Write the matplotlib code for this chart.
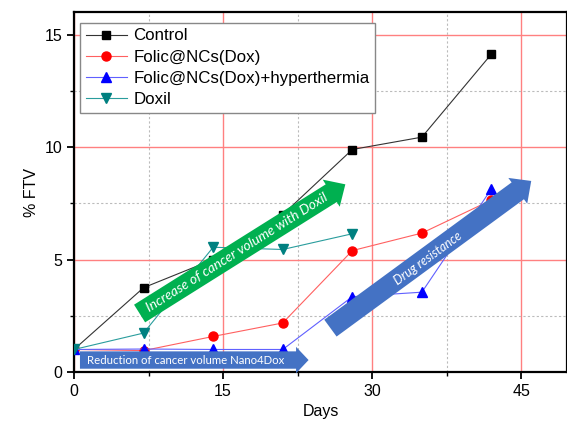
import numpy as np
import matplotlib
matplotlib.use("Agg")
import matplotlib.pyplot as plt
from matplotlib.ticker import MultipleLocator

plt.rcParams["font.family"] = ["Liberation Sans", "DejaVu Sans"]

# data
days_control = [0, 7, 14, 21, 28, 35, 42]
control = [1.0, 3.75, 5.0, 7.0, 9.9, 10.45, 14.15]

days_folic = [0, 7, 14, 21, 28, 35, 42]
folic = [1.0, 0.95, 1.58, 2.18, 5.4, 6.18, 7.65]

days_hyper = [0, 7, 14, 21, 28, 35, 42]
hyper = [1.0, 1.02, 1.0, 1.0, 3.35, 3.55, 8.15]

days_doxil = [0, 7, 14, 21, 28]
doxil = [1.0, 1.73, 5.55, 5.45, 6.15]

series_labels = ["Control", "Folic@NCs(Dox)", "Folic@NCs(Dox)+hyperthermia", "Doxil"]

fig = plt.figure(figsize=(5.67, 4.29), dpi=100)
ax = fig.add_axes([0.1305, 0.133, 0.8695, 0.838])

ax.set_xlim(0, 49.6)
ax.set_ylim(0, 16)

# grid
ax.xaxis.set_major_locator(MultipleLocator(15))
ax.xaxis.set_minor_locator(MultipleLocator(7.5))
ax.yaxis.set_major_locator(MultipleLocator(5))
ax.yaxis.set_minor_locator(MultipleLocator(2.5))
ax.grid(which="major", color="#ff8080", lw=1.0, zorder=0)
ax.grid(which="minor", color="#bbbbbb", lw=0.8, ls=(0, (2, 2)), zorder=0)
ax.set_axisbelow(True)

ax.plot(days_control, control, color="#333333", lw=0.8, marker="s", ms=6,
        mfc="black", mec="black", label=series_labels[0], zorder=4)
ax.plot(days_folic, folic, color="#ff6060", lw=0.8, marker="o", ms=6.5,
        mfc="red", mec="red", label=series_labels[1], zorder=4)
ax.plot(days_hyper, hyper, color="#6060ff", lw=0.8, marker="^", ms=7,
        mfc="blue", mec="blue", label=series_labels[2], zorder=4)
ax.plot(days_doxil, doxil, color="#2a9d9d", lw=0.8, marker="v", ms=7,
        mfc="#008080", mec="#008080", label=series_labels[3], zorder=4)

for s in ax.spines.values():
    s.set_linewidth(1.6)
ax.tick_params(which="major", direction="out", length=5, width=1.3, labelsize=11.5)
ax.tick_params(which="minor", direction="out", length=3, width=1.0)

ax.set_xlabel("Days", fontsize=11.5)
ax.set_ylabel("% FTV", fontsize=11.5)

leg = ax.legend(loc="upper left", bbox_to_anchor=(0.012, 0.972), borderaxespad=0,
                fontsize=12.2, handlelength=2.4, labelspacing=0.36, fancybox=False,
                framealpha=1, edgecolor="#888888", borderpad=0.35, handletextpad=0.4)
leg.get_frame().set_linewidth(1.0)
leg.set_zorder(6)


def big_arrow(tail, tip, color, style, text, text_at, fs, italic):
    ax.annotate("", xy=tip, xytext=tail,
                arrowprops=dict(arrowstyle=style, mutation_scale=10, color=color,
                                shrinkA=0, shrinkB=0, lw=0),
                zorder=5)
    p0 = ax.transData.transform(tail)
    p1 = ax.transData.transform(tip)
    ang = np.degrees(np.arctan2(p1[1] - p0[1], p1[0] - p0[0]))
    ax.text(text_at[0], text_at[1], text, rotation=ang, rotation_mode="anchor",
            ha="center", va="center", color="white", fontsize=fs,
            style="italic" if italic else "normal",
            family=["Lato", "DejaVu Sans"], zorder=6)


diag = "simple,head_length=1.2,head_width=2.3,tail_width=1.5"
big_arrow((6.6, 2.6), (27.3, 8.35), "#00b050", diag,
          "Increase of cancer volume with Doxil", (16.4, 5.3), 10, True)
big_arrow((25.8, 1.95), (46.0, 8.5), "#4472c4", diag,
          "Drug resistance", (35.6, 5.05), 9, True)
big_arrow((0.6, 0.53), (23.6, 0.53), "#4472c4",
          "simple,head_length=0.9,head_width=1.9,tail_width=1.25",
          "Reduction of cancer volume Nano4Dox", (11.2, 0.5), 8.2, False)

fig.savefig("out.png", dpi=100)
